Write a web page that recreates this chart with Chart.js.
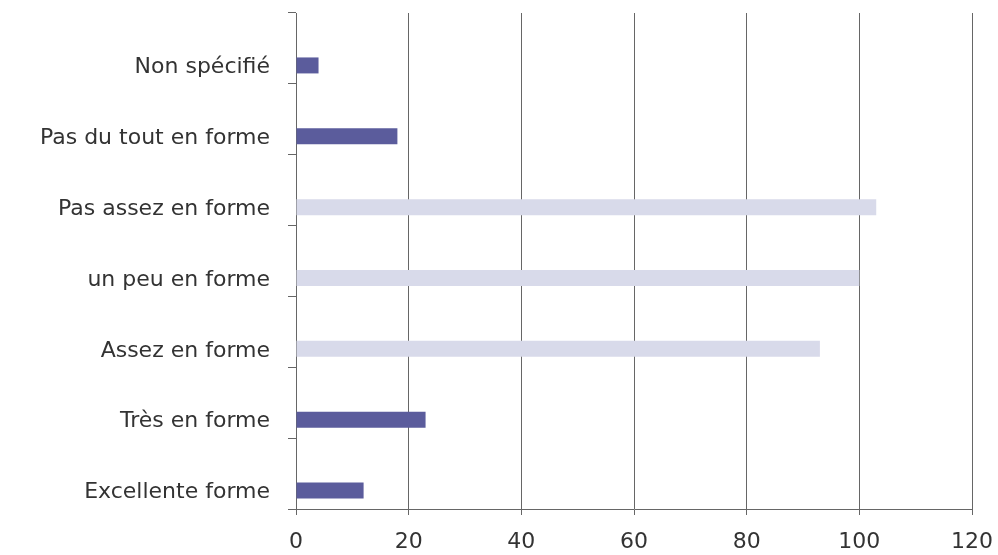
<!DOCTYPE html>
<html>
<head>
<meta charset="utf-8">
<script src="https://cdn.jsdelivr.net/npm/chart.js@4"></script>
<style>
  html, body { margin: 0; padding: 0; background: #fff; }
  #wrap { width: 998px; height: 555px; }
</style>
</head>
<body>
<div id="wrap"><canvas id="c" width="998" height="555"></canvas></div>
<script>
const categories = ['Non spécifié', 'Pas du tout en forme', 'Pas assez en forme', 'un peu en forme', 'Assez en forme', 'Très en forme', 'Excellente forme'];
const values = [4, 18, 103, 100, 93, 23, 12];
const barColors = ['#5b5c9c', '#5b5c9c', '#d8daea', '#d8daea', '#d8daea', '#5b5c9c', '#5b5c9c'];
const xTicks = [0, 20, 40, 60, 80, 100, 120];

const FONT = { family: 'DejaVu Sans', size: 22 };
const LINE = '#666';
const empty = categories.map(() => null);

new Chart(document.getElementById('c').getContext('2d'), {
  type: 'bar',
  data: {
    labels: categories,
    datasets: [
      // two empty slots so the visible bar sits low in each band, as in the original
      { data: empty, backgroundColor: 'transparent' },
      { data: empty, backgroundColor: 'transparent' },
      { data: values, backgroundColor: barColors, borderWidth: 0 },
    ],
  },
  options: {
    indexAxis: 'y',
    responsive: false,
    animation: false,
    categoryPercentage: 0.72,
    barPercentage: 0.94,
    layout: { padding: { top: 13, right: 26, left: 0, bottom: 0 } },
    plugins: { legend: { display: false }, tooltip: { enabled: false } },
    scales: {
      x: {
        min: 0, max: 120,
        afterBuildTicks: s => { s.ticks = xTicks.map(v => ({ value: v })); },
        afterFit: s => { s.height = 46; s.paddingLeft = 0; s.paddingRight = 0; },
        ticks: { color: '#333', font: FONT, padding: 14 },
        grid: { color: LINE, lineWidth: 1, tickLength: 6 },
        border: { color: LINE },
      },
      y: {
        afterFit: s => { s.width = 296; s.paddingTop = 0; s.paddingBottom = 0; },
        ticks: { color: '#333', font: FONT, padding: 18, labelOffset: 19 },
        grid: { offset: true, drawOnChartArea: false, tickLength: 8, color: LINE },
        border: { color: LINE },
      },
    },
  },
});
</script>
</body>
</html>
